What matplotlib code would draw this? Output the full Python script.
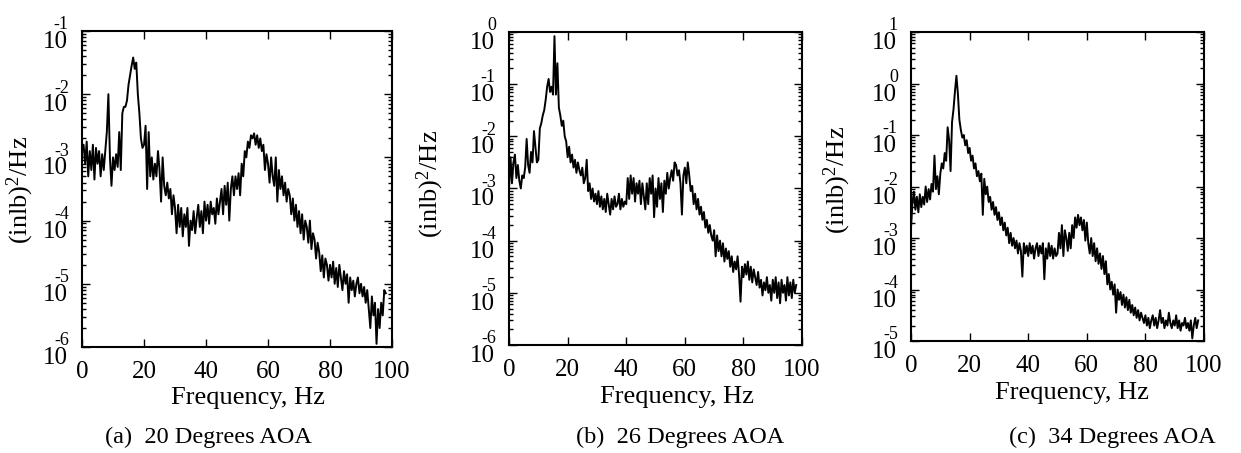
import numpy as np
import matplotlib
matplotlib.use("Agg")
import matplotlib.pyplot as plt
import matplotlib.transforms as mtransforms
from matplotlib.ticker import LogLocator, FixedLocator, NullFormatter

plt.rcParams['font.family'] = ['Liberation Serif', 'DejaVu Serif']
plt.rcParams['mathtext.fontset'] = 'custom'
plt.rcParams['mathtext.rm'] = 'Liberation Serif'
plt.rcParams['mathtext.it'] = 'Liberation Serif:italic'
plt.rcParams['axes.unicode_minus'] = False

# frequency grid of the spectra, Hz
freq = np.arange(0, 98.5, 0.5)

# log10 of PSD, (in-lb)^2/Hz
psd_20 = [
    -2.9, -2.8, -3.1, -2.75, -3.3, -2.9, -3.2, -2.8, -3.35, -2.85,
    -3.1, -2.9, -3.3, -2.95, -3.2, -2.9, -2.6, -2.0, -3.0, -3.45,
    -3.0, -3.2, -2.95, -3.15, -2.6, -3.2, -2.3, -2.2, -2.2, -2.1,
    -1.85, -1.7, -1.55, -1.42, -1.6, -1.5, -2.0, -2.3, -2.7, -2.85,
    -2.8, -2.5, -3.5, -2.6, -3.3, -3.0, -3.35, -3.1, -3.3, -2.9,
    -3.2, -3.7, -3.0, -3.45, -3.6, -3.4, -3.65, -3.5, -3.9, -3.6,
    -3.8, -4.2, -3.75, -4.1, -3.8, -4.25, -3.9, -4.1, -3.8, -4.4,
    -4.0, -4.15, -3.85, -4.2, -3.95, -3.75, -4.1, -3.85, -4.2, -3.7,
    -4.0, -3.75, -4.05, -3.7, -3.9, -3.8, -4.05, -3.65, -3.9, -3.7,
    -3.5, -3.9, -3.45, -3.75, -3.4, -4.0, -3.5, -3.3, -3.6, -3.3,
    -3.5, -3.25, -3.6, -3.1, -3.3, -2.9, -3.0, -2.75, -2.85, -2.65,
    -2.7, -2.62, -2.8, -2.65, -2.85, -2.7, -2.9, -2.8, -3.2, -2.95,
    -3.1, -3.4, -3.0, -3.3, -3.45, -3.0, -3.7, -3.2, -3.5, -3.3,
    -3.6, -3.4, -3.7, -3.5, -3.6, -3.9, -3.65, -4.0, -3.75, -4.1,
    -3.85, -4.2, -3.9, -4.3, -4.0, -4.1, -4.35, -4.0, -4.45, -4.2,
    -4.3, -4.6, -4.35, -4.5, -4.8, -4.55, -4.9, -4.6, -4.7, -4.95,
    -4.7, -4.9, -4.65, -5.0, -4.75, -5.05, -4.7, -4.9, -5.1, -4.8,
    -5.0, -4.85, -5.3, -4.9, -5.1, -4.95, -5.2, -5.0, -4.9, -5.15,
    -5.0, -5.2, -5.05, -5.3, -5.1, -5.4, -5.7, -5.2, -5.5, -5.3,
    -5.95, -5.4, -5.7, -5.3, -5.5, -5.1, -5.15,
]

psd_26 = [
    -3.0, -2.4, -2.9, -2.5, -2.35, -2.8, -2.55, -2.85, -3.0, -2.75,
    -2.8, -2.6, -2.05, -2.55, -2.7, -2.3, -2.5, -1.9, -2.2, -2.5,
    -2.45, -1.85, -1.75, -1.6, -1.5, -1.3, -1.05, -0.9, -1.15, -1.05,
    -1.2, -0.08, -1.2, -0.6, -1.45, -1.6, -1.8, -1.7, -2.0, -2.1,
    -2.4, -2.2, -2.5, -2.35, -2.6, -2.45, -2.7, -2.5, -2.65, -2.75,
    -2.6, -2.9, -2.8, -2.45, -3.05, -2.9, -3.2, -3.0, -3.25, -3.1,
    -3.3, -3.05, -3.35, -3.15, -3.4, -3.2, -3.45, -3.1, -3.3, -3.5,
    -3.2, -3.4, -3.15, -3.35, -3.3, -3.1, -3.4, -3.2, -3.35, -3.25,
    -3.3, -2.8, -3.2, -2.75, -3.1, -2.8, -3.25, -2.9, -3.1, -2.85,
    -3.3, -2.9, -3.15, -3.4, -2.9, -3.3, -2.8, -3.1, -2.75, -3.55,
    -3.0, -3.35, -2.8, -3.2, -2.9, -3.45, -2.85, -3.1, -2.7, -3.0,
    -2.8, -2.65, -2.85, -2.5, -2.55, -2.75, -2.65, -2.9, -3.5, -2.75,
    -2.6, -2.9, -2.5, -2.75, -3.05, -2.95, -3.3, -3.1, -3.4, -3.2,
    -3.5, -3.35, -3.6, -3.45, -3.75, -3.6, -3.85, -3.7, -3.9, -4.0,
    -3.8, -4.3, -3.9, -4.2, -4.0, -4.3, -4.05, -4.4, -4.15, -4.35,
    -4.2, -4.5, -4.3, -4.6, -4.4, -4.55, -4.3, -4.65, -5.17, -4.5,
    -4.7, -4.45, -4.65, -4.4, -4.75, -4.5, -4.8, -4.55, -4.7, -4.85,
    -4.6, -4.9, -4.75, -5.05, -4.8, -4.95, -4.7, -5.0, -4.85, -5.15,
    -4.75, -5.0, -4.7, -5.1, -4.8, -5.2, -4.75, -5.0, -4.85, -5.15,
    -4.7, -5.05, -4.8, -5.1, -4.75, -5.0, -4.85,
]

psd_34 = [
    -2.8, -2.3, -2.1, -2.45, -2.2, -2.5, -2.15, -2.4, -2.2, -2.35,
    -2.0, -2.3, -2.05, -2.25, -1.95, -2.1, -1.4, -2.05, -1.8, -2.15,
    -1.75, -1.55, -1.65, -1.35, -1.5, -0.85, -1.1, -1.7, -0.75, -0.5,
    -0.15, 0.15, -0.2, -0.7, -0.9, -1.05, -1.0, -1.2, -1.1, -1.35,
    -1.25, -1.5, -1.4, -1.65, -1.55, -1.8, -1.7, -1.9, -1.75, -2.55,
    -1.85, -2.15, -2.0, -2.3, -2.2, -2.45, -2.3, -2.55, -2.4, -2.65,
    -2.5, -2.75, -2.6, -2.85, -2.7, -2.95, -2.8, -3.1, -2.9, -3.15,
    -3.0, -3.2, -3.05, -3.3, -3.1, -3.25, -3.75, -3.1, -3.3, -3.15,
    -3.35, -3.1, -3.3, -3.15, -3.4, -3.2, -3.1, -3.35, -3.15, -3.3,
    -3.1, -3.8, -3.2, -3.4, -3.1, -3.35, -3.15, -3.4, -3.2, -3.35,
    -3.3, -2.9, -3.2, -2.75, -3.35, -2.85, -3.0, -3.25, -2.9, -3.2,
    -2.75, -3.0, -2.6, -2.8, -2.55, -2.75, -2.6, -2.85, -2.65, -3.05,
    -2.7, -3.1, -3.3, -3.0, -3.35, -3.1, -3.45, -3.2, -3.5, -3.3,
    -3.6, -3.35, -3.7, -3.45, -3.9, -3.7, -4.0, -3.85, -4.1, -3.9,
    -4.45, -4.0, -4.2, -4.05, -4.3, -4.1, -4.35, -4.15, -4.4, -4.2,
    -4.45, -4.3, -4.5, -4.35, -4.55, -4.4, -4.6, -4.45, -4.55, -4.65,
    -4.5, -4.7, -4.55, -4.75, -4.6, -4.5, -4.7, -4.55, -4.75, -4.6,
    -4.4, -4.65, -4.55, -4.75, -4.6, -4.7, -4.45, -4.65, -4.75, -4.6,
    -4.7, -4.5, -4.75, -4.6, -4.8, -4.65, -4.7, -4.55, -4.75, -4.65,
    -4.8, -4.6, -4.95, -4.7, -4.55, -4.75, -4.6,
]

series = [psd_20, psd_26, psd_34]
ylims = [(-6, -1), (-6, 0), (-5, 1)]
xticks = [0, 20, 40, 60, 80, 100]
captions = ['(a)  20 Degrees AOA', '(b)  26 Degrees AOA', '(c)  34 Degrees AOA']

# axes boxes in figure fractions
boxes = [
    [0.0661, 0.2340, 0.2498, 0.6976],
    [0.4102, 0.2384, 0.2361, 0.6910],
    [0.7341, 0.2472, 0.2361, 0.6821],
]
xlab_pos = [(0.535, -0.161), (0.573, -0.166), (0.549, -0.168)]
ylab_pos = [(-0.20, 0.497), (-0.27, 0.514), (-0.253, 0.52)]
cap_x = [208 / 1241, 680 / 1241, 1112 / 1241]

fig = plt.figure(figsize=(12.41, 4.53), dpi=100)

for i in range(3):
    ax = fig.add_axes(boxes[i])
    ax.semilogy(freq, 10.0 ** np.array(series[i]), color='black', lw=1.4)
    lo, hi = ylims[i]
    ax.set_xlim(0, 100)
    ax.set_ylim(10.0 ** lo, 10.0 ** hi)

    ax.xaxis.set_major_locator(FixedLocator(xticks))
    ax.set_xticklabels([str(t) for t in xticks])
    decades = list(range(lo, hi + 1))
    ax.yaxis.set_major_locator(FixedLocator([10.0 ** d for d in decades]))
    # MATLAB-style labels: "10" below the tick, exponent above it
    ax.set_yticklabels(['10'] * len(decades))
    for lab in ax.get_yticklabels():
        lab.set_verticalalignment('top')
    ax.yaxis.set_minor_locator(LogLocator(base=10, subs=np.arange(2, 10), numticks=20))
    ax.yaxis.set_minor_formatter(NullFormatter())

    ax.tick_params(which='both', direction='in', top=True, right=True,
                   labelsize=18, width=1.0)
    ax.tick_params(which='major', length=6)
    ax.tick_params(which='minor', length=3)
    ax.tick_params(axis='x', pad=10)
    ax.tick_params(axis='y', pad=10)
    for sp in ax.spines.values():
        sp.set_linewidth(1.5)

    exp_tr = mtransforms.offset_copy(ax.get_yaxis_transform(), fig=fig,
                                     x=-9.5, y=1.2, units='points')
    for d in decades:
        ax.text(0, 10.0 ** d, '%d' % d, transform=exp_tr, fontsize=13,
                ha='right', va='baseline')

    ax.set_xlabel('Frequency, Hz', fontsize=19, va='center')
    ax.xaxis.set_label_coords(*xlab_pos[i])
    ax.set_ylabel(r'(inlb)$^{\mathregular{2}}$/Hz', fontsize=19, va='center')
    ax.yaxis.set_label_coords(*ylab_pos[i])

    fig.text(cap_x[i], 1 - 437 / 453, captions[i], fontsize=17.5,
             ha='center', va='center')

fig.savefig('out.png', dpi=100)
